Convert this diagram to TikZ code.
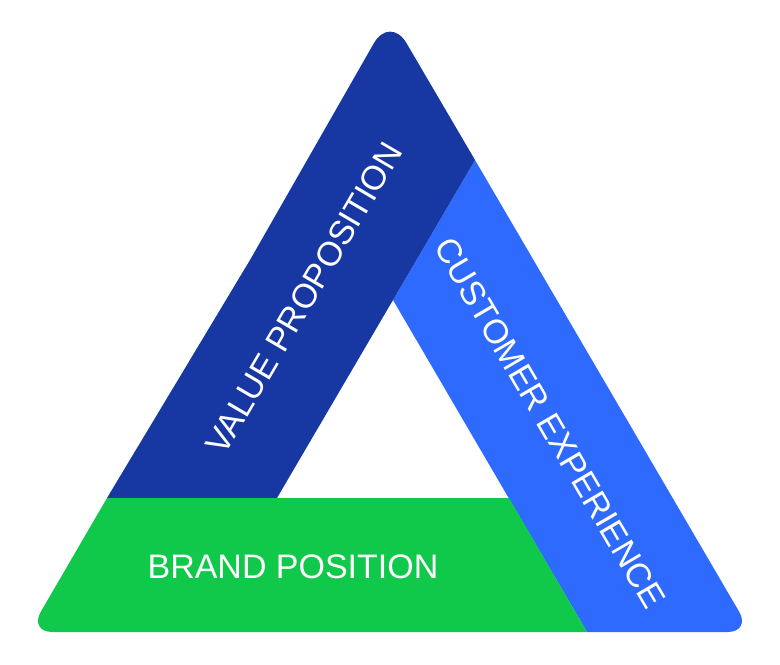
\documentclass[tikz,border=0pt]{standalone}
\usepackage{fontspec}
\setmainfont{Liberation Sans}
\usetikzlibrary{positioning}
\definecolor{valueblue}{HTML}{1737A3}
\definecolor{custblue}{HTML}{2E6AFD}
\definecolor{brandgreen}{HTML}{10C94B}
\tikzset{label text/.style={text=white, font=\fontsize{29}{34}\selectfont}}
\begin{document}
\begin{tikzpicture}[x=0.03cm, y=-0.03cm]
    \useasboundingbox (0,0) rectangle (780,664);
    % the three bands
    \fill[custblue] (475,160) [rounded corners=20pt] -- (751,632) [sharp corners] -- (587,632) -- (393,300) -- cycle;
    \fill[valueblue] (250,260) [rounded corners=28pt] -- (390,15) [sharp corners] -- (475,160) -- (277,498) -- (107,498) -- cycle;
    \fill[brandgreen] (107,498) [rounded corners=20pt] -- (29,632) [sharp corners] -- (587,632) -- (509,498) -- cycle;
    % labels
    \node[label text, rotate=59.6] (value) at (304,298) {VALUE PROPOSITION};
    \node[label text, rotate=-59.6] (customer) at (550,423) {CUSTOMER EXPERIENCE};
    \node[label text] (brand) at (293,567) {BRAND POSITION};
\end{tikzpicture}
\end{document}
